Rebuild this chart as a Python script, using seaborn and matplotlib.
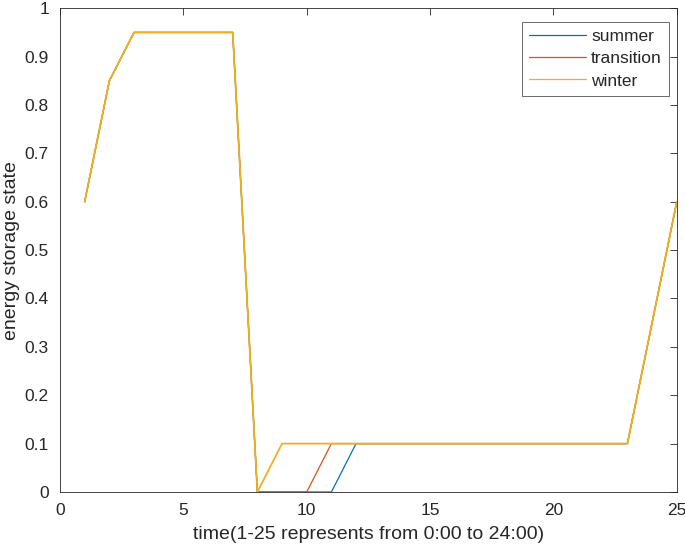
import numpy as np
import pandas as pd
import seaborn as sns
import matplotlib.pyplot as plt

sns.set_style('white')
plt.rcParams['font.family'] = ['Liberation Sans', 'DejaVu Sans']

hours = list(range(1, 26))
summer = [0.6, 0.85, 0.95, 0.95, 0.95, 0.95, 0.95, 0, 0, 0, 0, 0.1, 0.1,
          0.1, 0.1, 0.1, 0.1, 0.1, 0.1, 0.1, 0.1, 0.1, 0.1, 0.35, 0.6]
transition = [0.6, 0.85, 0.95, 0.95, 0.95, 0.95, 0.95, 0, 0, 0, 0.1, 0.1, 0.1,
              0.1, 0.1, 0.1, 0.1, 0.1, 0.1, 0.1, 0.1, 0.1, 0.1, 0.35, 0.6]
winter = [0.6, 0.85, 0.95, 0.95, 0.95, 0.95, 0.95, 0, 0.1, 0.1, 0.1, 0.1, 0.1,
          0.1, 0.1, 0.1, 0.1, 0.1, 0.1, 0.1, 0.1, 0.1, 0.1, 0.35, 0.6]

df = pd.DataFrame({'time': hours, 'summer': summer,
                   'transition': transition, 'winter': winter})
long = df.melt(id_vars='time', var_name='season', value_name='soc')

fig = plt.figure(figsize=(6.85, 5.5), dpi=100)
ax = fig.add_axes([0.0876, 0.1055, 0.9004, 0.8795])

sns.lineplot(data=long, x='time', y='soc', hue='season',
             palette=['#0072BD', '#D95319', '#EDB120'], linewidth=0.9, ax=ax)
# winter sits on top, make it cover the others fully
ax.lines[2].set_linewidth(1.3)

ax.set_xlim(0, 25)
ax.set_ylim(0, 1)
ax.set_xticks([0, 5, 10, 15, 20, 25])
ax.set_yticks(np.arange(0, 1.01, 0.1))
ax.set_yticklabels(['0', '0.1', '0.2', '0.3', '0.4', '0.5', '0.6', '0.7',
                    '0.8', '0.9', '1'])
ax.tick_params(direction='in', length=5, top=True, right=True,
               labelsize=12.5, colors='#262626', width=0.6, pad=8)
ax.set_xlabel('time(1-25 represents from 0:00 to 24:00)', fontsize=14,
              color='#262626', labelpad=6)
ax.set_ylabel('energy storage state', fontsize=14, color='#262626', labelpad=3)
for s in ax.spines.values():
    s.set_color('#262626')
    s.set_linewidth(0.6)

leg = ax.legend(loc='upper right', bbox_to_anchor=(0.987, 0.971),
                borderaxespad=0, fontsize=12.5, frameon=True, fancybox=False,
                edgecolor='#262626', handlelength=3.3, labelspacing=0.4,
                handletextpad=0.3, borderpad=0.4)
leg.get_frame().set_linewidth(0.6)
for h in leg.get_lines():
    h.set_linewidth(0.9)
leg.set_title(None)

fig.savefig('out.png', dpi=100)
